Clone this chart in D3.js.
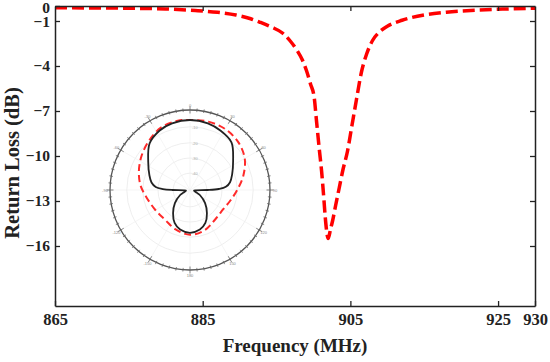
<!DOCTYPE html>
<html><head><meta charset="utf-8">
<script src="https://cdn.jsdelivr.net/npm/d3@7"></script>
<style>body{margin:0;background:#fff}svg{display:block}</style>
</head><body><svg id="c" width="550" height="362"></svg>
<script>
// ---- main chart data ----
const freq = [865,870,875,880,884,887,889.5,891.5,892.7,894.3,895.8,896.8,897.7,898.5,899.05,899.6,900.1,900.4,900.8,901.1,901.4,901.6,902.0,902.3,902.6,903.0,903.5,904.0,904.6,905.2,905.8,906.5,907.2,908,909,910,912,915,918,922,926,930];
const returnLoss = [-0.12,-0.13,-0.15,-0.2,-0.3,-0.42,-0.6,-0.85,-1.07,-1.4,-1.8,-2.3,-2.9,-3.6,-4.3,-5.2,-6.1,-7.6,-9.6,-11.0,-12.8,-14.1,-15.5,-14.9,-14.3,-13.3,-12.1,-10.9,-9.7,-8.0,-6.3,-4.4,-3.2,-2.3,-1.7,-1.35,-0.95,-0.6,-0.42,-0.28,-0.2,-0.15];
const xTicks = [865,885,905,925,930];
const yTicks = [0,-1,-4,-7,-10,-13,-16];
const xTitle = "Frequency (MHz)";
const yTitle = "Return Loss (dB)";

// ---- inset radiation pattern data (angle in degrees, normalised radius) ----
const patAnglesA = [0,15,27,41,56,70,79,85,88,90,93,100,113,117,131,144,155,166,180,194,205,216,229,243,247,260,267,270,272,275,281,290,304,319,333,345];
const patGainA   = [.875,.863,.835,.79,.65,.56,.51,.45,.36,.22,.075,.05,.10,.138,.25,.36,.455,.51,.535,.51,.455,.36,.25,.138,.10,.05,.075,.22,.34,.43,.49,.54,.63,.77,.835,.863];
const patAnglesB = [0,15,30,45,60,75,90,105,120,140,160,180,200,220,240,260,275,290,305,320,335,350];
const patGainB   = [.875,.885,.88,.85,.79,.69,.59,.52,.48,.485,.535,.56,.525,.485,.50,.55,.62,.68,.74,.80,.86,.88];
const ringLabels = ["-40","-30","-20","-10"];
const ringLevels = [0.21,0.40,0.59,0.79];
const angleLabels = ["0","30","60","90","120","150","180","-150","-120","-90","-60","-30"];

const svg = d3.select("#c");
const L=55,R=535,T=6,B=306;
const x = d3.scaleLinear().domain([865,930]).range([L,R]);
const y = d3.scaleLinear().domain([-20,0]).range([B,T]);
const font = "'Liberation Serif','Times New Roman',serif";

// inset polar plot
const cx=190, cy=190, RO=80;
const rs = d3.scaleLinear().domain([0,1]).range([0,RO]);
const g = svg.append("g").attr("transform",`translate(${cx},${cy})`);
ringLevels.forEach((v,i)=>{
  g.append("circle").attr("r",rs(v)).attr("fill","none").attr("stroke","#e6e6e6").attr("stroke-width",0.7);
  g.append("text").attr("x",2).attr("y",-rs(v)+2).attr("font-size",4).attr("fill","#aaa")
    .attr("font-family","Arial,sans-serif").text(ringLabels[i]);
});
d3.range(0,360,30).forEach(a=>{
  const t=a*Math.PI/180;
  g.append("line").attr("x1",0).attr("y1",0).attr("x2",RO*Math.sin(t)).attr("y2",-RO*Math.cos(t))
    .attr("stroke","#efefef").attr("stroke-width",0.6);
});
g.append("circle").attr("r",RO).attr("fill","none").attr("stroke","#555").attr("stroke-width",1.3);
d3.range(0,360,5).forEach(a=>{
  const t=a*Math.PI/180, len = a%30===0?3.5:1.8;
  g.append("line").attr("x1",(RO-len)*Math.sin(t)).attr("y1",-(RO-len)*Math.cos(t))
    .attr("x2",(RO+len)*Math.sin(t)).attr("y2",-(RO+len)*Math.cos(t))
    .attr("stroke","#666").attr("stroke-width",0.8);
});
angleLabels.forEach((lab,i)=>{
  const t=i*30*Math.PI/180;
  g.append("text").attr("x",(RO+5)*Math.sin(t)).attr("y",-(RO+5)*Math.cos(t)+1.5)
    .attr("text-anchor","middle").attr("font-size",4).attr("fill","#888")
    .attr("font-family","Arial,sans-serif").text(lab);
});
const radial = d3.lineRadial().curve(d3.curveCatmullRomClosed.alpha(0.5));
g.append("path").attr("d",radial(patAnglesB.map((a,i)=>[a*Math.PI/180, rs(patGainB[i])])))
  .attr("fill","none").attr("stroke","#ff2a2a").attr("stroke-width",2).attr("stroke-dasharray","7,4");
g.append("path").attr("d",radial(patAnglesA.map((a,i)=>[a*Math.PI/180, rs(patGainA[i])])))
  .attr("fill","none").attr("stroke","#222").attr("stroke-width",1.8);

// main curve
const line = d3.line().x((d,i)=>x(freq[i])).y(d=>y(d)).curve(d3.curveMonotoneX);
svg.append("path").attr("d",line(returnLoss)).attr("fill","none").attr("stroke","#ff0000")
  .attr("stroke-width",3.5).attr("stroke-dasharray","12,5");

// axes
function style(sel){
  sel.select(".domain").attr("stroke","#222").attr("stroke-width",1.5);
  sel.selectAll(".tick line").attr("stroke","#222").attr("stroke-width",1.3);
  sel.selectAll("text").attr("font-family",font).attr("font-weight","bold").attr("font-size",15.5).attr("fill","#222");
}
svg.append("g").attr("transform",`translate(0,${B})`)
  .call(d3.axisBottom(x).tickValues(xTicks).tickSize(-5).tickSizeOuter(0).tickPadding(7).tickFormat(d3.format("d"))).call(style)
  .selectAll("text").attr("font-size",16.5);
const ya = svg.append("g").attr("transform",`translate(${L},0)`)
  .call(d3.axisLeft(y).tickValues(yTicks).tickSize(-5).tickSizeOuter(0).tickPadding(5).tickFormat(d3.format("d"))).call(style);
ya.selectAll(".tick").filter(d=>d===0).select("text").attr("y",1.5);
ya.selectAll(".tick").filter(d=>d===-1).select("text").attr("y",1);
svg.append("g").attr("transform",`translate(0,${T})`)
  .call(d3.axisTop(x).tickValues(xTicks.slice(1,4)).tickSize(-5).tickSizeOuter(0).tickFormat("")).call(style);
svg.append("g").attr("transform",`translate(${R},0)`)
  .call(d3.axisRight(y).tickValues(yTicks.slice(1)).tickSize(-5).tickSizeOuter(0).tickFormat("")).call(style);

svg.append("text").attr("x",(L+R)/2).attr("y",352).attr("text-anchor","middle")
  .attr("font-family",font).attr("font-weight","bold").attr("font-size",19).attr("fill","#222").text(xTitle);
svg.append("text").attr("transform","translate(19,163) rotate(-90)").attr("text-anchor","middle")
  .attr("font-family",font).attr("font-weight","bold").attr("font-size",20.5).attr("fill","#222").text(yTitle);
</script></body></html>
